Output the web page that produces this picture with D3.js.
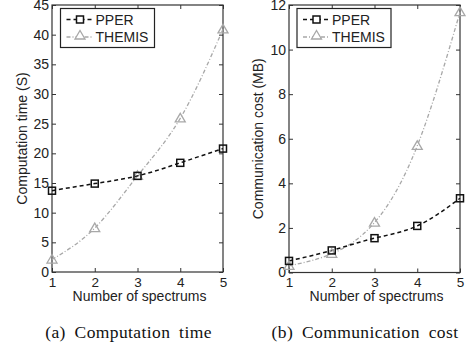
<!DOCTYPE html>
<html>
<head>
<meta charset="utf-8">
<script src="https://cdn.jsdelivr.net/npm/d3@7"></script>
<style>
body { margin: 0; background: #fff; }
text { font-family: "Liberation Sans", Arial, sans-serif; fill: #222; }
.caption { font-family: "Liberation Serif", "Times New Roman", serif; font-size: 17.5px; fill: #111; word-spacing: 4px; letter-spacing: 0.4px; }
</style>
</head>
<body>
<div class="chart"></div>
<script>
var w = 473, h = 354;
var spectrums = [1, 2, 3, 4, 5];
var seriesNames = ["PPER", "THEMIS"];

// panel (a)
var timePPER = [13.7, 14.9, 16.2, 18.4, 20.8];
var timeTHEMIS = [2.1, 7.4, 16.2, 25.9, 40.9];
var timeTicks = [0, 5, 10, 15, 20, 25, 30, 35, 40, 45];

// panel (b)
var costPPER = [0.52, 0.99, 1.54, 2.09, 3.33];
var costTHEMIS = [0.3, 0.84, 2.24, 5.68, 11.68];
var costTicks = [0, 2, 4, 6, 8, 10, 12];

var svg = d3.select(".chart")
  .append("svg")
  .attr("width", w)
  .attr("height", h);

var panels = [
  {left: 52, right: 223, top: 5, bottom: 272, max: 45, ticks: timeTicks,
   a: timePPER, b: timeTHEMIS, ylabel: "Computation time (S)", cap: "(a) Computation time", ylabX: 27, legX: 60.5, capX: 128.5},
  {left: 289, right: 460, top: 5, bottom: 272.5, max: 12, ticks: costTicks,
   a: costPPER, b: costTHEMIS, ylabel: "Communication cost (MB)", cap: "(b) Communication cost", ylabX: 262.5, legX: 297, capX: 365}
];

var gray = "#a8a8a8";

panels.forEach(function (p) {
  var x = d3.scaleLinear().domain([1, 5]).range([p.left, p.right]);
  var y = d3.scaleLinear().domain([0, p.max]).range([p.bottom, p.top]);
  var g = svg.append("g");

  // inward ticks on all four sides
  g.append("g").attr("transform", "translate(0," + p.bottom + ")")
    .call(d3.axisBottom(x).tickValues(spectrums).tickFormat(d3.format("d")).tickSizeInner(-4).tickSizeOuter(0).tickPadding(5))
    .call(function (s) { s.select(".domain").remove(); s.selectAll("text").style("font-size", "13.5px"); });
  g.append("g").attr("transform", "translate(0," + p.top + ")")
    .call(d3.axisTop(x).tickValues(spectrums).tickSizeInner(-4).tickSizeOuter(0).tickFormat(""))
    .call(function (s) { s.select(".domain").remove(); });
  g.append("g").attr("transform", "translate(" + p.left + ",0)")
    .call(d3.axisLeft(y).tickValues(p.ticks).tickSizeInner(-4).tickSizeOuter(0).tickPadding(3))
    .call(function (s) { s.select(".domain").remove(); s.selectAll("text").style("font-size", "14px"); });
  g.append("g").attr("transform", "translate(" + p.right + ",0)")
    .call(d3.axisRight(y).tickValues(p.ticks).tickSizeInner(-4).tickSizeOuter(0).tickFormat(""))
    .call(function (s) { s.select(".domain").remove(); });
  g.selectAll(".tick line").attr("stroke", "#333");

  g.append("rect")
    .attr("x", p.left).attr("y", p.top)
    .attr("width", p.right - p.left).attr("height", p.bottom - p.top)
    .attr("fill", "none").attr("stroke", "#333").attr("stroke-width", 1.2);

  var line = d3.line()
    .x(function (d, i) { return x(spectrums[i]); })
    .y(function (d) { return y(d); })
    .curve(d3.curveNatural);

  g.append("path").datum(p.b).attr("d", line)
    .attr("fill", "none").attr("stroke", gray).attr("stroke-width", 1.3)
    .attr("stroke-dasharray", "4,2,1,2");
  g.append("path").datum(p.a).attr("d", line)
    .attr("fill", "none").attr("stroke", "#111").attr("stroke-width", 1.5)
    .attr("stroke-dasharray", "4,3");

  g.selectAll(".tri").data(p.b).enter().append("path")
    .attr("transform", function (d, i) { return "translate(" + x(spectrums[i]) + "," + y(d) + ")"; })
    .attr("d", "M-5,3.5L5,3.5L0,-5Z")
    .attr("fill", "none").attr("stroke", gray).attr("stroke-width", 1.3);
  g.selectAll(".sq").data(p.a).enter().append("rect")
    .attr("x", function (d, i) { return x(spectrums[i]) - 3.5; })
    .attr("y", function (d) { return y(d) - 3.5; })
    .attr("width", 7).attr("height", 7)
    .attr("fill", "none").attr("stroke", "#111").attr("stroke-width", 1.5);

  // legend
  var lg = g.append("g").attr("transform", "translate(" + p.legX + ",8.5)");
  lg.append("rect").attr("width", 94).attr("height", 39)
    .attr("fill", "#fff").attr("stroke", "#222").attr("stroke-width", 1.2);
  lg.append("line").attr("x1", 6).attr("x2", 33).attr("y1", 11).attr("y2", 11)
    .attr("stroke", "#111").attr("stroke-width", 1.5).attr("stroke-dasharray", "4,3");
  lg.append("rect").attr("x", 16).attr("y", 7.5).attr("width", 7).attr("height", 7)
    .attr("fill", "#fff").attr("stroke", "#111").attr("stroke-width", 1.5);
  lg.append("line").attr("x1", 6).attr("x2", 33).attr("y1", 28.5).attr("y2", 28.5)
    .attr("stroke", gray).attr("stroke-width", 1.3).attr("stroke-dasharray", "4,2,1,2");
  lg.append("path").attr("transform", "translate(19.5,27)").attr("d", "M-5,3.5L5,3.5L0,-5Z")
    .attr("fill", "#fff").attr("stroke", gray).attr("stroke-width", 1.3);
  lg.selectAll(".lt").data(seriesNames).enter().append("text")
    .attr("x", 35).attr("y", function (d, i) { return 16 + i * 17.5; })
    .style("font-size", "14px").text(function (d) { return d; });

  // labels
  g.append("text").attr("x", (p.left + p.right) / 2 + 2).attr("y", 301)
    .attr("text-anchor", "middle").style("font-size", "14px").text("Number of spectrums");
  g.append("text").attr("transform", "translate(" + p.ylabX + "," + ((p.top + p.bottom) / 2) + ") rotate(-90)")
    .attr("text-anchor", "middle").style("font-size", "14px").text(p.ylabel);
  g.append("text").attr("class", "caption").attr("x", p.capX).attr("y", 338)
    .attr("text-anchor", "middle").text(p.cap);
});
</script>
</body>
</html>
